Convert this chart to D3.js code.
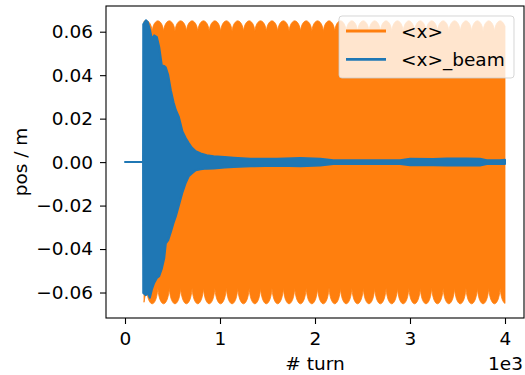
<!DOCTYPE html>
<html>
<head>
<meta charset="utf-8">
<script src="https://cdn.jsdelivr.net/npm/d3@7"></script>
<style>
  body { margin: 0; background: #fff; }
  text { font-family: "DejaVu Sans", sans-serif; }
</style>
</head>
<body>
<svg id="chart" width="525" height="375"></svg>
<script>
// <x> : fast oscillation, drawn by its scalloped envelope
// turns where the top edge peaks (bottom edge has a cusp there)
const peakTurns = [226, 346, 466, 586, 706, 826, 946, 1067, 1187, 1307, 1427,
  1547, 1667, 1787, 1907, 2027, 2148, 2268, 2388, 2508, 2628, 2748, 2868,
  2988, 3108, 3229, 3349, 3469, 3589, 3709, 3829, 3949];
const beatPeriod = 120;
const topPeak = 0.0650, topCusp = 0.0602;
const bottomTrough = -0.0652, bottomCusp = -0.0580;
// shape of one scallop, cusp to cusp
const scallopFrac = [0, 0.04, 0.1, 0.18, 0.28, 0.39, 0.5, 0.61, 0.72, 0.82, 0.9, 0.96, 1];
const scallopLevel = [0, 0.28, 0.52, 0.72, 0.87, 0.97, 1, 0.97, 0.87, 0.72, 0.52, 0.28, 0];
const xStart = 200, xEnd = 4000;

// <x>_beam envelope
const beamTurns = [0, 190, 192, 220, 240, 262, 283, 307, 336, 360, 388, 413, 430,
  455, 483, 511, 535, 567, 605, 640, 671, 703, 745, 797, 860, 933, 1050, 1144,
  1322, 1600, 1847, 2057, 2193, 2500, 2896, 3001, 3243, 3389, 3600, 3736, 3809,
  3945, 4000];
const beamUpper = [0, 0, 0.0634, 0.0653, 0.0645, 0.061, 0.0565, 0.0583, 0.0575,
  0.053, 0.0444, 0.0442, 0.0435, 0.040, 0.033, 0.0275, 0.024, 0.0208, 0.0141,
  0.011, 0.0088, 0.0067, 0.005, 0.004, 0.0032, 0.0027, 0.0023, 0.002, 0.0016,
  0.0016, 0.0019, 0.0016, 0.0009, 0.0008, 0.0009, 0.0015, 0.0014, 0.0017,
  0.0017, 0.0015, 0.0009, 0.0009, 0.0011];
const beamLower = [0, 0, -0.0602, -0.0612, -0.0602, -0.0624, -0.0586, -0.0556,
  -0.0533, -0.0525, -0.049, -0.0442, -0.0374, -0.0359, -0.0321, -0.028, -0.025,
  -0.020, -0.0139, -0.0095, -0.0065, -0.0052, -0.0037, -0.0033, -0.003, -0.0029,
  -0.0025, -0.0022, -0.0019, -0.0017, -0.0019, -0.0016, -0.0009, -0.0009,
  -0.0009, -0.0015, -0.0014, -0.0016, -0.0016, -0.0016, -0.0009, -0.0009, -0.0009];

const xTicks = [0, 1000, 2000, 3000, 4000];
const yTicks = [-0.06, -0.04, -0.02, 0, 0.02, 0.04, 0.06];
const legendLabels = ['<x>', '<x>_beam'];

const colors = { x: '#ff7f0e', beam: '#1f77b4' };
const margin = { left: 106, right: 1, top: 6, bottom: 57 };
const width = 525, height = 375;
const fontSize = 18.5;

const svg = d3.select('#chart');

// build envelope tables
const topPts = [], bottomPts = [];
peakTurns.forEach((p) => {
  scallopFrac.forEach((f, i) => {
    const tTop = p - beatPeriod / 2 + f * beatPeriod;
    const tBot = p + f * beatPeriod;
    if (tTop >= xStart && tTop <= xEnd)
      topPts.push([tTop, topCusp + (topPeak - topCusp) * scallopLevel[i]]);
    if (tBot >= xStart && tBot <= xEnd)
      bottomPts.push([tBot, bottomCusp + (bottomTrough - bottomCusp) * scallopLevel[i]]);
  });
});
topPts.unshift([xStart, topPts[0][1]]);
topPts.push([xEnd, topPts[topPts.length - 1][1]]);
bottomPts.unshift([xStart, bottomCusp + (bottomTrough - bottomCusp) * 0.9]);
bottomPts.push([xEnd, bottomPts[bottomPts.length - 1][1]]);

// matplotlib style 5% margins
const xMin = 0, xMax = 4000;
const yMin = d3.min([...bottomPts.map((d) => d[1]), ...beamLower]);
const yMax = d3.max([...topPts.map((d) => d[1]), ...beamUpper]);
const xPad = (xMax - xMin) * 0.05, yPad = (yMax - yMin) * 0.05;

const x = d3.scaleLinear()
  .domain([xMin - xPad, xMax + xPad])
  .range([margin.left, width - margin.right]);
const y = d3.scaleLinear()
  .domain([yMin - yPad, yMax + yPad])
  .range([height - margin.bottom, margin.top]);

const plot = svg.append('g');

// <x>
const outline = topPts.concat(bottomPts.slice().reverse());
plot.append('path')
  .attr('d', d3.line().x((d) => x(d[0])).y((d) => y(d[1]))(outline) + 'Z')
  .attr('fill', colors.x)
  .attr('stroke', colors.x)
  .attr('stroke-width', 0.8);

// <x>_beam
const beam = beamTurns.map((t, i) => ({ t, hi: beamUpper[i], lo: beamLower[i] }));
plot.append('path')
  .datum(beam)
  .attr('d', d3.area().x((d) => x(d.t)).y0((d) => y(d.lo)).y1((d) => y(d.hi)))
  .attr('fill', colors.beam)
  .attr('stroke', colors.beam)
  .attr('stroke-width', 2)
  .attr('stroke-linejoin', 'round');

// axes
const xAxis = svg.append('g')
  .attr('transform', `translate(0,${height - margin.bottom})`)
  .call(d3.axisBottom(x).tickValues(xTicks).tickFormat((d) => d / 1000)
    .tickSize(6).tickPadding(8).tickSizeOuter(0));
const yAxis = svg.append('g')
  .attr('transform', `translate(${margin.left},0)`)
  .call(d3.axisLeft(y).tickValues(yTicks).tickFormat(d3.format('.2f'))
    .tickSize(6).tickPadding(7).tickSizeOuter(0));

[xAxis, yAxis].forEach((a) => {
  a.select('.domain').remove();
  a.selectAll('.tick line').attr('stroke', '#000').attr('stroke-width', 1.1);
  a.selectAll('.tick text')
    .attr('fill', '#000')
    .style('font-family', '"DejaVu Sans", sans-serif')
    .style('font-size', fontSize + 'px');
});

svg.append('rect')
  .attr('x', margin.left)
  .attr('y', margin.top)
  .attr('width', width - margin.left - margin.right)
  .attr('height', height - margin.top - margin.bottom)
  .attr('fill', 'none')
  .attr('stroke', '#000')
  .attr('stroke-width', 1.1);

// labels
svg.append('text')
  .attr('x', (margin.left + width - margin.right) / 2)
  .attr('y', 370)
  .attr('text-anchor', 'middle')
  .style('font-size', fontSize + 'px')
  .text('# turn');

svg.append('text')
  .attr('x', width - margin.right - 1)
  .attr('y', 370)
  .attr('text-anchor', 'end')
  .style('font-size', fontSize + 'px')
  .text('1e3');

svg.append('text')
  .attr('transform', `translate(27,${(margin.top + height - margin.bottom) / 2}) rotate(-90)`)
  .attr('text-anchor', 'middle')
  .style('font-size', fontSize + 'px')
  .text('pos / m');

// legend
const legend = svg.append('g').attr('transform', 'translate(339,16)');
legend.append('rect')
  .attr('width', 175)
  .attr('height', 62)
  .attr('rx', 3)
  .attr('fill', '#fff')
  .attr('fill-opacity', 0.8)
  .attr('stroke', '#ccc')
  .attr('stroke-opacity', 0.8);

const items = legend.selectAll('g.item')
  .data(legendLabels)
  .join('g')
  .attr('class', 'item')
  .attr('transform', (d, i) => `translate(0,${15 + i * 28.3})`);
items.append('line')
  .attr('x1', 7).attr('x2', 47)
  .attr('stroke', (d, i) => (i === 0 ? colors.x : colors.beam))
  .attr('stroke-width', 2.8);
items.append('text')
  .attr('x', 62)
  .attr('dy', '0.36em')
  .style('font-size', fontSize + 'px')
  .text((d) => d);
</script>
</body>
</html>
